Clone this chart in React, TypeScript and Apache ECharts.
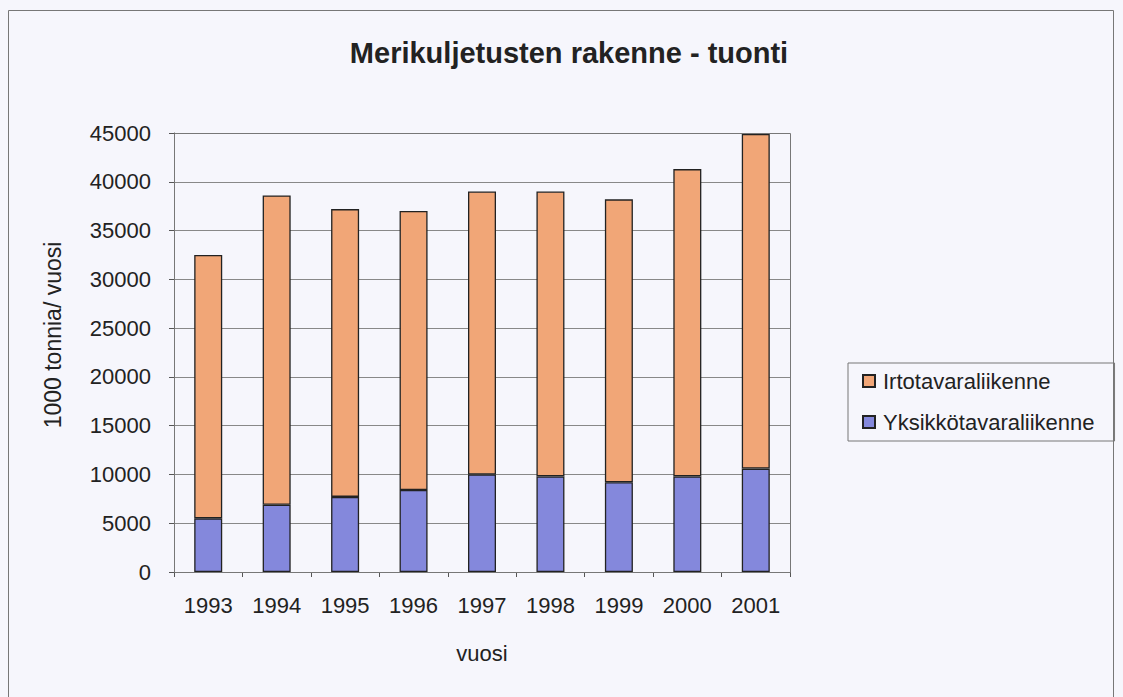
import React, { useEffect, useRef } from "react";
import * as echarts from "echarts";

const years = ["1993", "1994", "1995", "1996", "1997", "1998", "1999", "2000", "2001"];
const yksikko = [5500, 6900, 7700, 8400, 10000, 9800, 9200, 9800, 10600];
const irto = [27000, 31700, 29500, 28600, 29000, 29200, 29000, 31500, 34300];

const FONT = "'Liberation Sans', Arial, sans-serif";

export default function App() {
  const ref = useRef<HTMLDivElement>(null);
  useEffect(() => {
    document.body.style.margin = "0";
    const chart = echarts.init(ref.current!, null, { renderer: "svg" });
    chart.setOption({
      animation: false,
      backgroundColor: "#f6f6fc",
      textStyle: { fontFamily: FONT },
      title: {
        text: "Merikuljetusten rakenne - tuonti",
        left: 564,
        top: 33,
        textAlign: "center",
        textStyle: { fontFamily: FONT, fontSize: 29, fontWeight: "bold", color: "#222" },
      },
      graphic: [
        {
          type: "rect",
          shape: { x: 8.5, y: 10.5, width: 1105, height: 700 },
          style: { fill: "none", stroke: "#777", lineWidth: 1 },
          silent: true,
        },
        {
          type: "rect",
          shape: { x: 174.5, y: 133.5, width: 616, height: 439 },
          style: { fill: "none", stroke: "#777", lineWidth: 1 },
          silent: true,
          z: 10,
        },
        {
          type: "text",
          x: 53,
          y: 335,
          rotation: Math.PI / 2,
          silent: true,
          style: {
            text: "1000 tonnia/ vuosi",
            fontFamily: FONT,
            fontSize: 23,
            fill: "#222",
            align: "center",
            verticalAlign: "middle",
          },
        },
      ],
      legend: {
        orient: "vertical",
        left: 848,
        top: 363,
        padding: [7, 20, 8, 14],
        itemGap: 19,
        itemWidth: 12,
        itemHeight: 12,
        icon: "rect",
        borderColor: "#777",
        borderWidth: 1,
        data: ["Irtotavaraliikenne", "Yksikkötavaraliikenne"],
        textStyle: { fontFamily: FONT, fontSize: 22, lineHeight: 22, color: "#222", padding: [0, 0, 0, 3] },
      },
      grid: { left: 174, right: 333, top: 133, bottom: 125 },
      xAxis: {
        type: "category",
        data: years,
        name: "vuosi",
        nameLocation: "middle",
        nameGap: 81,
        nameTextStyle: { fontFamily: FONT, fontSize: 22, color: "#222", verticalAlign: "middle" },
        axisLine: { lineStyle: { color: "#555" } },
        axisTick: { show: true, length: 5, lineStyle: { color: "#555" } },
        axisLabel: { fontFamily: FONT, fontSize: 22, color: "#222", margin: 22 },
      },
      yAxis: {
        type: "value",
        min: 0,
        max: 45000,
        interval: 5000,
        axisLine: { show: true, lineStyle: { color: "#555" } },
        axisTick: { show: true, length: 5, lineStyle: { color: "#555" } },
        axisLabel: {
          fontFamily: FONT,
          fontSize: 22,
          color: "#222",
          margin: 23,
          formatter: (v: number) => String(v),
        },
        splitLine: { lineStyle: { color: "#888", width: 1 } },
      },
      series: [
        {
          name: "Yksikkötavaraliikenne",
          type: "bar",
          stack: "total",
          data: yksikko,
          barWidth: 28,
          itemStyle: { color: "#8488dc", borderColor: "#222", borderWidth: 1.3 },
        },
        {
          name: "Irtotavaraliikenne",
          type: "bar",
          stack: "total",
          data: irto,
          barWidth: 28,
          itemStyle: { color: "#f1a677", borderColor: "#222", borderWidth: 1.3 },
        },
      ],
    });
    return () => chart.dispose();
  }, []);
  return <div ref={ref} style={{ width: 1123, height: 697 }} />;
}
